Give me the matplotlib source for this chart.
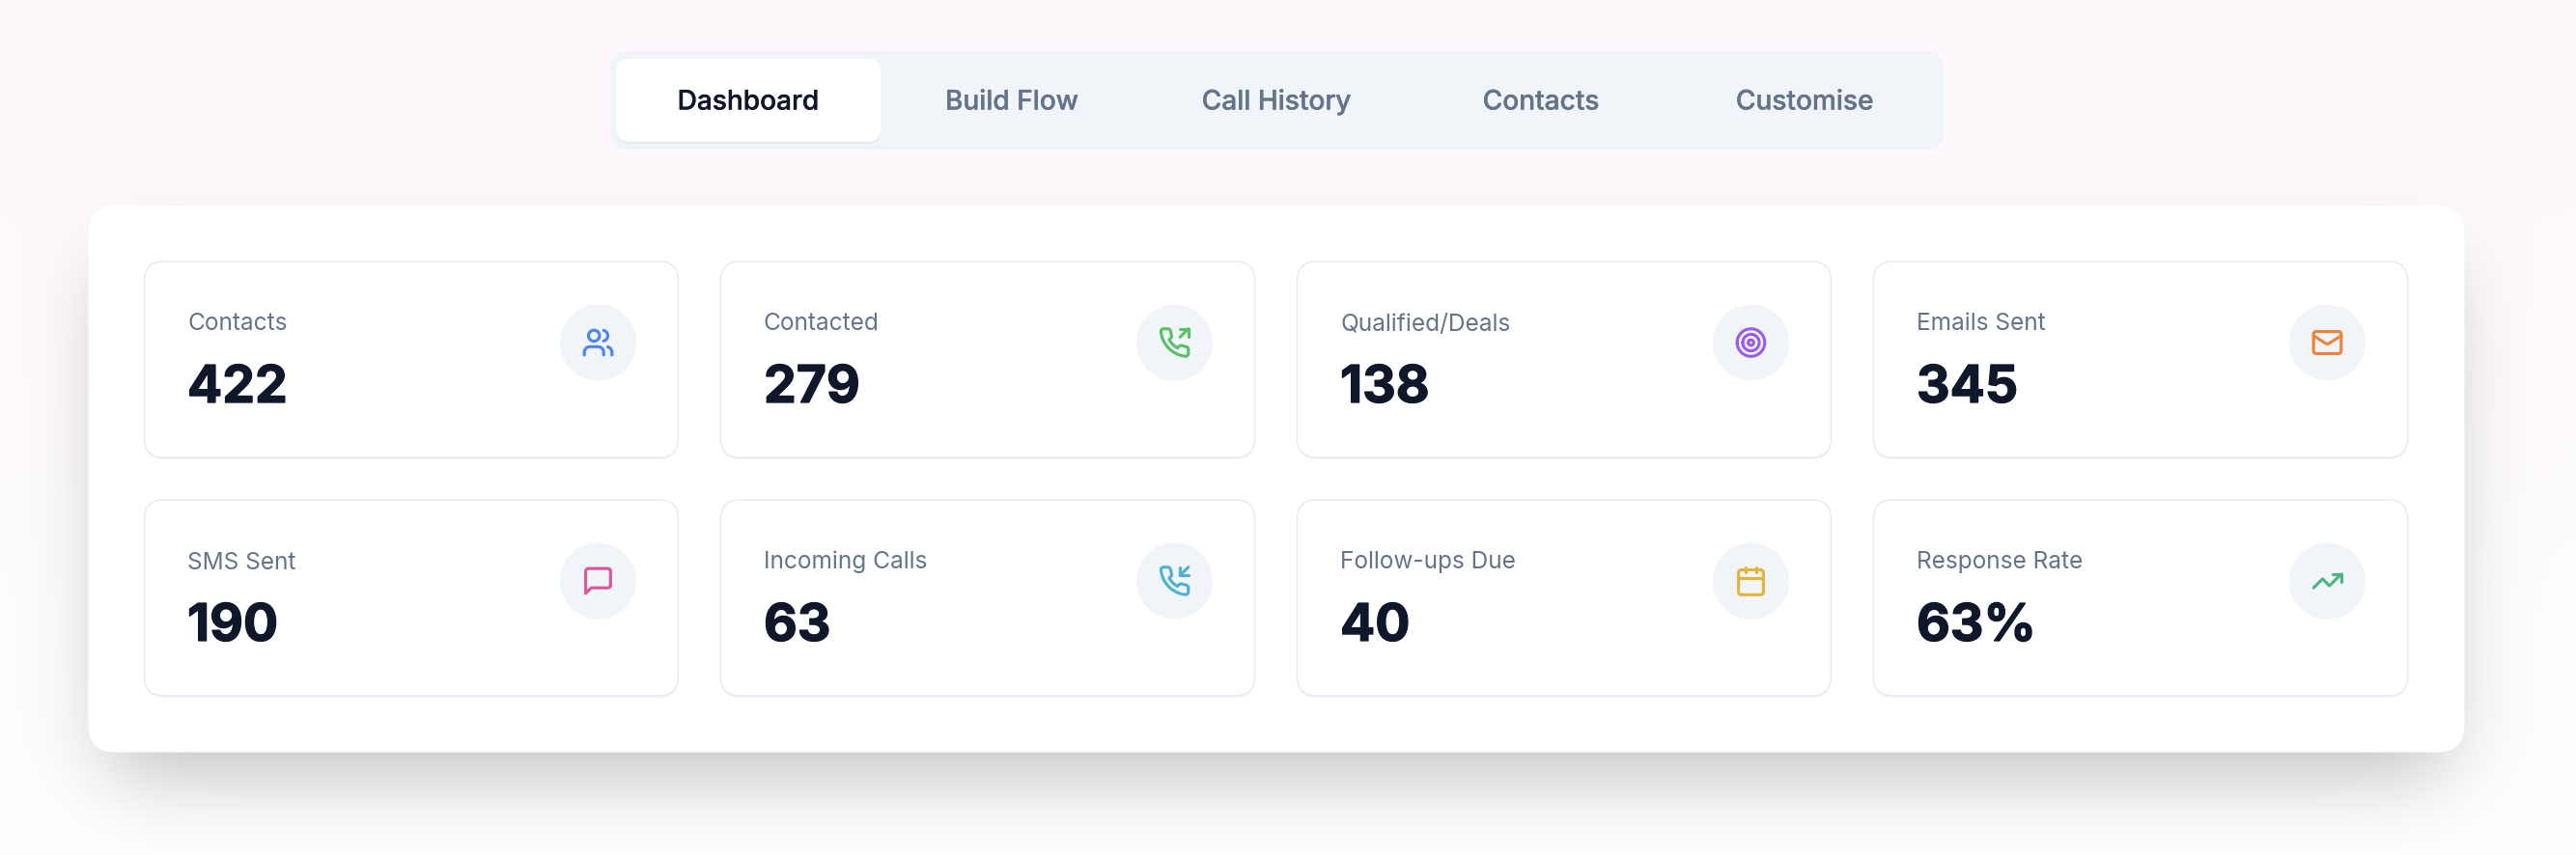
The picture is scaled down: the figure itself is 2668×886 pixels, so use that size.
import math
import re
import numpy as np
import matplotlib
matplotlib.use("Agg")
import matplotlib.pyplot as plt
import matplotlib.patheffects as pe
from matplotlib.patches import FancyBboxPatch, Circle, PathPatch
from matplotlib.path import Path

plt.rcParams['font.family'] = ['Inter', 'DejaVu Sans']

tabs = ["Dashboard", "Build Flow", "Call History", "Contacts", "Customise"]
tab_centers = [775, 1048, 1322, 1596, 1869]

labels = ["Contacts", "Contacted", "Qualified/Deals", "Emails Sent",
          "SMS Sent", "Incoming Calls", "Follow-ups Due", "Response Rate"]
values = ["422", "279", "138", "345", "190", "63", "40", "63%"]
icon_names = ["users", "phone_out", "target", "mail",
              "message", "phone_in", "calendar", "trending"]
icon_colors = ["#4c84f4", "#5cbf6a", "#9a5de8", "#f0813a",
               "#dc5799", "#4fb2d0", "#e4b33c", "#4bb67f"]

PHONE = ("M22 16.92v3a2 2 0 0 1-2.18 2 19.79 19.79 0 0 1-8.63-3.07 19.5 19.5 0 0 1-6-6 "
         "19.79 19.79 0 0 1-3.07-8.67A2 2 0 0 1 4.11 2h3a2 2 0 0 1 2 1.72 12.84 12.84 0 0 0 .7 2.81 "
         "2 2 0 0 1-.45 2.11L8.09 9.91a16 16 0 0 0 6 6l1.27-1.27a2 2 0 0 1 2.11-.45 "
         "12.84 12.84 0 0 0 2.81.7A2 2 0 0 1 22 16.92z")


def circle_d(cx, cy, r):
    return f"M{cx - r} {cy}A{r} {r} 0 1 1 {cx + r} {cy}A{r} {r} 0 1 1 {cx - r} {cy}z"


def rrect_d(x, y, w, h, r):
    return (f"M{x + r} {y}H{x + w - r}A{r} {r} 0 0 1 {x + w} {y + r}V{y + h - r}"
            f"A{r} {r} 0 0 1 {x + w - r} {y + h}H{x + r}A{r} {r} 0 0 1 {x} {y + h - r}"
            f"V{y + r}A{r} {r} 0 0 1 {x + r} {y}z")


icons = {
    "users": ["M16 21v-2a4 4 0 0 0-4-4H6a4 4 0 0 0-4 4v2", circle_d(9, 7, 4),
              "M22 21v-2a4 4 0 0 0-3-3.87", "M16 3.13a4 4 0 0 1 0 7.75"],
    "phone_out": [PHONE, "M16 2H22V8", "M16 8L22 2"],
    "target": [circle_d(12, 12, 10), circle_d(12, 12, 6), circle_d(12, 12, 2)],
    "mail": [rrect_d(2, 4, 20, 16, 2), "M22 7l-8.97 5.7a1.94 1.94 0 0 1-2.06 0L2 7"],
    "message": ["M21 15a2 2 0 0 1-2 2H7l-4 4V5a2 2 0 0 1 2-2h14a2 2 0 0 1 2 2z"],
    "phone_in": [PHONE, "M16 2V8H22", "M22 2L16 8"],
    "calendar": [rrect_d(3, 4, 18, 18, 2), "M16 2V6", "M8 2V6", "M3 10H21"],
    "trending": ["M22 7L13.5 15.5L8.5 10.5L2 17", "M16 7H22V13"],
}


def arc_points(x0, y0, rx, ry, large, sweep, x1, y1):
    # svg endpoint arc to points, rx==ry in all the icons
    dx, dy = (x0 - x1) / 2, (y0 - y1) / 2
    r = max(rx, math.hypot(dx, dy))
    k = math.sqrt(max(r * r - dx * dx - dy * dy, 0) / (dx * dx + dy * dy))
    if large == sweep:
        k = -k
    cx, cy = k * dy + (x0 + x1) / 2, -k * dx + (y0 + y1) / 2
    a0 = math.atan2(y0 - cy, x0 - cx)
    a1 = math.atan2(y1 - cy, x1 - cx)
    if sweep and a1 < a0:
        a1 += 2 * math.pi
    if not sweep and a1 > a0:
        a1 -= 2 * math.pi
    return [(cx + r * math.cos(a), cy + r * math.sin(a)) for a in np.linspace(a0, a1, 17)[1:]]


def parse_d(d):
    tokens = re.findall(r"[a-zA-Z]|-?\d*\.?\d+", d)
    pts = []
    x = y = 0.0
    i = 0
    cmd = None
    while i < len(tokens):
        if tokens[i].isalpha():
            cmd = tokens[i]
            i += 1
            if cmd in "zZ":
                pts.append(pts[0])
                continue
        rel = cmd.islower()
        c = cmd.upper()
        n = {"M": 2, "L": 2, "H": 1, "V": 1, "A": 7}[c]
        a = [float(t) for t in tokens[i:i + n]]
        i += n
        if c in "ML":
            x, y = (x + a[0], y + a[1]) if rel else (a[0], a[1])
            pts.append((x, y))
        elif c == "H":
            x = x + a[0] if rel else a[0]
            pts.append((x, y))
        elif c == "V":
            y = y + a[0] if rel else a[0]
            pts.append((x, y))
        else:
            nx, ny = (x + a[5], y + a[6]) if rel else (a[5], a[6])
            pts += arc_points(x, y, a[0], a[1], int(a[3]), int(a[4]), nx, ny)
            x, y = nx, ny
    return pts


def draw_icon(ax, name, cx, cy, color, scale=1.43):
    for d in icons[name]:
        pts = [(cx + (px - 12) * scale, cy + (py - 12) * scale) for px, py in parse_d(d)]
        ax.add_patch(PathPatch(Path(pts), fill=False, edgecolor=color, lw=2.25,
                               capstyle='round', joinstyle='round', zorder=6))


def rbox(ax, x0, y0, x1, y1, r, **kw):
    ax.add_patch(FancyBboxPatch((x0, y0), x1 - x0, y1 - y0,
                                boxstyle=f"round,pad=0,rounding_size={r}", **kw))


W, H = 2668, 886
fig = plt.figure(figsize=(W / 100, H / 100), dpi=100)
ax = fig.add_axes([0, 0, 1, 1])
ax.set_xlim(0, W)
ax.set_ylim(H, 0)
ax.axis('off')

# page background plus the big blurred shadow of the main panel
erf = np.vectorize(math.erf)
xs = np.arange(W) + 0.5
ys = np.arange(H) + 0.5
sigma = 42.5 * math.sqrt(2)
fx = 0.5 * (erf((xs - 112) / sigma) - erf((xs - 2532) / sigma))
fy = 0.5 * (erf((ys - 275) / sigma) - erf((ys - 801) / sigma))
shadow = 0.25 * np.outer(fy, fx)
t = (ys / H)[:, None]
top = np.array([254, 247, 252.0])
bottom = np.array([255, 255, 255.0])
bg = (top * (1 - t) + bottom * t)[:, None, :] * np.ones((H, W, 3))
img = bg * (1 - shadow[:, :, None])
ax.imshow(img.astype(np.uint8), extent=(0, W, H, 0), aspect='auto', zorder=0, interpolation='nearest')

# tab bar
rbox(ax, 632, 53, 2013, 155, 18, fc="#f1f5f9", ec="none", zorder=2)
rbox(ax, 638, 63, 912, 149, 14, fc="#e8ecf1", ec="none", zorder=2.5)
rbox(ax, 638, 61, 912, 147, 14, fc="white", ec="none", zorder=3)
for i, tab in enumerate(tabs):
    txt = ax.text(tab_centers[i], 113.5, tab, ha='center', va='baseline', fontsize=20.2, fontweight=500,
                  color="#0f172a" if i == 0 else "#64748b", zorder=5)
    txt.set_path_effects([pe.withStroke(linewidth=0.25, foreground=txt.get_color())])

# main panel
rbox(ax, 91.5, 213, 2552.5, 779.5, 28, fc="white", ec="none", zorder=2)

# stat cards
card_x = [149.5, 746.5, 1343.5, 1940.5]
card_y = [271, 518]
card_w, card_h = 553, 203
for i, label in enumerate(labels):
    x = card_x[i % 4]
    y = card_y[i // 4]
    rbox(ax, x, y + 2, x + card_w, y + card_h + 2, 20, fc="#f3f5f8", ec="none", zorder=2.5)
    rbox(ax, x, y, x + card_w, y + card_h, 20, fc="white", ec="#e6eaf2", lw=1.0, zorder=3)
    ax.text(x + 44.5, y + 71.5, label, ha='left', va='baseline', fontsize=17.6, color="#64748b", zorder=5)
    num = ax.text(x + 44.5, y + 146, values[i], ha='left', va='baseline', fontsize=38.6, fontweight='bold',
                  color="#0f172a", zorder=5)
    num.set_path_effects([pe.withStroke(linewidth=0.9, foreground="#0f172a")])
    ccx, ccy = x + card_w - 83, y + 84
    ax.add_patch(Circle((ccx, ccy), 39.5, fc="#f1f5f9", ec="none", zorder=4))
    draw_icon(ax, icon_names[i], ccx, ccy, icon_colors[i])

fig.savefig("out.png", dpi=100)
